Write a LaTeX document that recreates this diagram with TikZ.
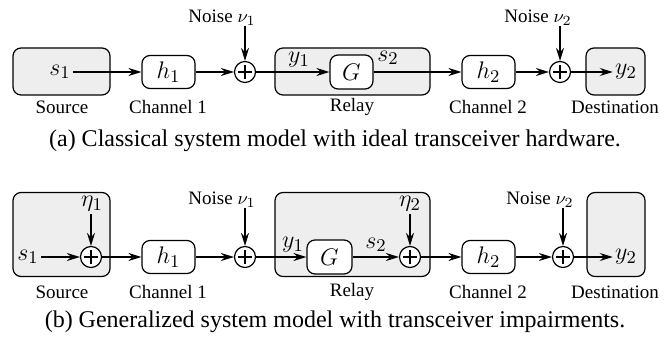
\documentclass[tikz,border=0pt]{standalone}
\usepackage{fontspec}
\setmainfont{Liberation Serif}
\usetikzlibrary{arrows.meta}
\begin{document}
\begin{tikzpicture}[x=0.5pt,y=-0.5pt,
  grp/.style={draw, rounded corners=4pt, fill=gray!13, line width=0.6pt, inner sep=0pt},
  blk/.style={draw, rounded corners=4pt, fill=white, line width=0.6pt, minimum width=26.5pt, minimum height=16.5pt, inner sep=0pt, font=\fontsize{12.5}{14}\selectfont},
  sum/.style={draw, circle, minimum size=10.5pt, inner sep=0pt, fill=white, line width=0.6pt,
    path picture={\draw[line width=0.6pt] ([xshift=-3.5pt]path picture bounding box.center) -- ([xshift=3.5pt]path picture bounding box.center);
                  \draw[line width=0.6pt] ([yshift=-3.5pt]path picture bounding box.center) -- ([yshift=3.5pt]path picture bounding box.center);}},
  arr/.style={-{Stealth[length=6.5pt,width=4pt]}, line width=0.6pt},
  mth/.style={inner sep=1pt, font=\fontsize{12.5}{14}\selectfont},
  lbl/.style={inner sep=0pt, font=\fontsize{9.5}{11}\selectfont},
  nlbl/.style={inner sep=0pt, anchor=east, font=\fontsize{9.5}{11}\selectfont},
  captxt/.style={inner sep=0pt, font=\fontsize{12}{14}\selectfont},
  ]
\useasboundingbox (0,0) rectangle (672,341);

% ---------------- (a) ----------------
\node[grp, minimum width=48.5pt, minimum height=23.5pt] (srcA) at (61.5,71.5) {};
\node[grp, minimum width=77.5pt, minimum height=23.5pt] (relA) at (352.5,71.5) {};
\node[grp, minimum width=29.5pt, minimum height=23.5pt] (dstA) at (615.5,71.5) {};

\node[mth] (s1A) at (60,72) {$s_1$};
\node[blk] (h1A) at (168.5,72) {$h_1$};
\node[sum] (p1A) at (245,72) {};
\node[nlbl] (n1A) at (256,18) {Noise $\nu_1$};
\node[blk, minimum width=21.5pt, minimum height=17pt] (GA) at (351.5,72) {$G$};
\node[mth] (y1A) at (299,60) {$y_1$};
\node[mth] (s2A) at (388,58) {$s_2$};
\node[blk] (h2A) at (488.5,72) {$h_2$};
\node[sum] (p2A) at (560,72) {};
\node[nlbl] (n2A) at (572,18) {Noise $\nu_2$};
\node[mth] (y2A) at (626,72) {$y_2$};

\draw[arr] (s1A) -- (h1A);
\draw[arr] (h1A) -- (p1A);
\draw[arr] (p1A |- n1A.south) -- (p1A);
\draw[arr] (p1A) -- (GA);
\draw[arr] (GA) -- (h2A);
\draw[arr] (h2A) -- (p2A);
\draw[arr] (p2A |- n2A.south) -- (p2A);
\draw[arr] (p2A) -- (y2A);

\node[lbl] (lsA) at (62,107) {Source};
\node[lbl] (lc1A) at (168,107) {Channel 1};
\node[lbl] (lrA) at (352,107) {Relay};
\node[lbl] (lc2A) at (488,107) {Channel 2};
\node[lbl] (ldA) at (615,107) {Destination};
\node[captxt] (capA) at (335,141) {(a) Classical system model with ideal transceiver hardware.};

% ---------------- (b) ----------------
\node[grp, minimum width=48.5pt, minimum height=42pt] (srcB) at (61.5,234.5) {};
\node[grp, minimum width=77.5pt, minimum height=42pt] (relB) at (352.5,234.5) {};
\node[grp, minimum width=29pt, minimum height=42pt] (dstB) at (616,234.5) {};

\node[mth] (s1B) at (28,257) {$s_1$};
\node[sum] (e1B) at (91,257) {};
\node[mth] (eta1B) at (92,204) {$\eta_1$};
\node[blk] (h1B) at (168.5,257) {$h_1$};
\node[sum] (p1B) at (245,257) {};
\node[nlbl] (n1B) at (256,200) {Noise $\nu_1$};
\node[blk, minimum width=22.5pt, minimum height=17pt] (GB) at (329.5,257) {$G$};
\node[mth] (y1B) at (293,245) {$y_1$};
\node[mth] (s2B) at (376,245) {$s_2$};
\node[sum] (e2B) at (410,257) {};
\node[mth] (eta2B) at (410,204) {$\eta_2$};
\node[blk] (h2B) at (488.5,257) {$h_2$};
\node[sum] (p2B) at (563,257) {};
\node[nlbl] (n2B) at (574,200) {Noise $\nu_2$};
\node[mth] (y2B) at (626,257) {$y_2$};

\draw[arr] (s1B) -- (e1B);
\draw[arr] (e1B |- eta1B.south) -- (e1B);
\draw[arr] (e1B) -- (h1B);
\draw[arr] (h1B) -- (p1B);
\draw[arr] (p1B |- n1B.south) -- (p1B);
\draw[arr] (p1B) -- (GB);
\draw[arr] (GB) -- (e2B);
\draw[arr] (eta2B) -- (e2B);
\draw[arr] (e2B) -- (h2B);
\draw[arr] (h2B) -- (p2B);
\draw[arr] (p2B |- n2B.south) -- (p2B);
\draw[arr] (p2B) -- (y2B);

\node[lbl] (lsB) at (62,292) {Source};
\node[lbl] (lc1B) at (168,292) {Channel 1};
\node[lbl] (lrB) at (352,292) {Relay};
\node[lbl] (lc2B) at (488,292) {Channel 2};
\node[lbl] (ldB) at (615,292) {Destination};
\node[captxt] (capB) at (335,322) {(b) Generalized system model with transceiver impairments.};
\end{tikzpicture}
\end{document}
